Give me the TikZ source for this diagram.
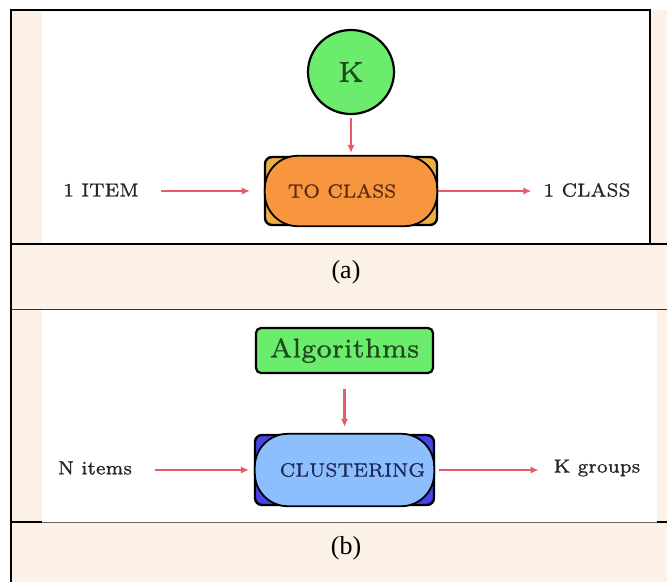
\documentclass[tikz,border=0pt]{standalone}
\usepackage{fontspec}
\usetikzlibrary{arrows.meta,shapes.geometric}
\newfontfamily\capfont{Liberation Serif}
\newfontfamily\lmseven{lmroman7-regular.otf}[FakeBold=0.9]

\definecolor{cellbg}{HTML}{FCF1E7}
\definecolor{arrowred}{HTML}{E65A6A}
\definecolor{kgreen}{HTML}{6CEC6C}
\definecolor{kdark}{HTML}{1E4A1E}
\definecolor{goldbox}{HTML}{EBB040}
\definecolor{orangein}{HTML}{F7963F}
\definecolor{browntext}{HTML}{5A2A12}
\definecolor{bluebox}{HTML}{4646E6}
\definecolor{bluein}{HTML}{8DBFFF}
\definecolor{navytext}{HTML}{1C2A5C}

\tikzset{
  flow/.style={draw=arrowred, line width=2.4pt, -{Latex[length=8pt,width=7.5pt]}},
  lbl/.style={inner sep=0pt, text=black!85, font=\lmseven\fontsize{19}{21}\selectfont},
  outerbox/.style={draw=black, line width=2.4pt, rounded corners=7pt, inner sep=0pt},
  innerrim/.style={draw=black, line width=1.8pt, rounded corners=33pt},
  caption/.style={inner sep=0pt, font=\capfont\fontsize{26}{30}\selectfont},
}

\begin{document}
\begin{tikzpicture}[x=1pt, y=-1pt]
  \useasboundingbox (0,0) rectangle (667,582);
  \fill[white] (0,0) rectangle (667,582);

  % table cells
  \fill[cellbg] (11,10) rectangle (667,582);
  \fill[white] (42,12) rectangle (650,243);
  \fill[white] (42,310) rectangle (657,522);

  % frame and rules
  \draw[line width=2pt] (11,582) -- (11,10) -- (650,10) -- (650,244);
  \draw[line width=1.6pt] (11,244) -- (667,244);
  \draw[line width=1pt, black!80] (11,309.5) -- (667,309.5);
  \draw[line width=1pt, black!60] (11,522) -- (667,522);
  \draw[line width=1.4pt] (11,522) -- (42,522);
  \draw[line width=1.4pt] (657,522) -- (667,522);

  % ---- panel (a): classification ----
  \node[ellipse, draw=black, line width=2.2pt, fill=kgreen, minimum width=86pt,
        minimum height=84pt, inner sep=0pt, text=kdark,
        font=\lmseven\fontsize{29}{31}\selectfont] (k) at (351,72) {K};

  \node[outerbox, fill=goldbox, minimum width=172pt, minimum height=68pt] (tc) at (351,191) {};
  \draw[innerrim, fill=orangein] ([xshift=1pt]tc.south west) rectangle ([xshift=-1pt]tc.north east);
  \node[inner sep=0pt, text=browntext, font=\lmseven\fontsize{19}{21}\selectfont] (tctext) at ([xshift=-9pt]tc.center) {TO CLASS};

  \node[lbl] (item) at (101,190) {1 ITEM};
  \node[lbl] (cls) at (587,190) {1 CLASS};

  \draw[flow, shorten <=22pt, shorten >=14pt] (item.east |- tc.west) -- (tc.west);
  \draw[flow, shorten <=3pt, shorten >=3pt] (k.south) -- (tc.north);
  \draw[flow, shorten >=12pt] (tc.east) -- (cls.west |- tc.east);

  \node[caption] (capa) at (346,272) {(a)};

  % ---- panel (b): clustering ----
  \node[outerbox, rounded corners=5pt, line width=2.2pt, fill=kgreen, minimum width=177pt,
        minimum height=45pt, text=kdark, font=\lmseven\fontsize{27}{29}\selectfont]
        (alg) at (344.5,350.5) {Algorithms};

  \node[outerbox, fill=bluebox, minimum width=179pt, minimum height=70pt] (cl) at (344.5,470) {};
  \draw[innerrim, fill=bluein] ([xshift=1pt]cl.south west) rectangle ([xshift=-1pt]cl.north east);
  \node[inner sep=0pt, text=navytext, font=\lmseven\fontsize{19.3}{21}\selectfont] (cltext) at ([xshift=8pt]cl.center) {CLUSTERING};

  \node[lbl] (nit) at (95,468) {N items};
  \node[lbl] (kgr) at (597,468) {K groups};

  \draw[flow, shorten <=15pt, shorten >=7pt] (alg.south) -- (cl.north);
  \draw[flow, shorten <=23pt, shorten >=5pt] (nit.east |- cl.west) -- (cl.west);
  \draw[flow, shorten <=4pt, shorten >=15pt] (cl.east) -- (kgr.west |- cl.east);

  \node[caption] (capb) at (346,548) {(b)};
\end{tikzpicture}
\end{document}
